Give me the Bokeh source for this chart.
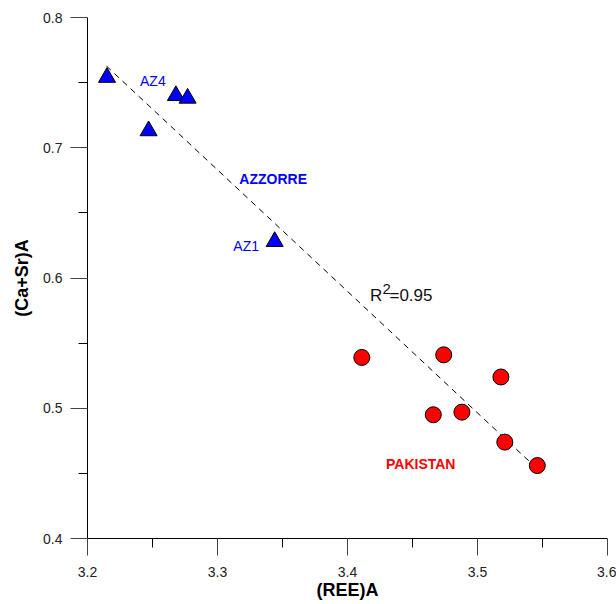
from bokeh.plotting import figure
from bokeh.models import Range1d, FixedTicker, Label
from bokeh.embed import file_html
from bokeh.resources import INLINE

# Azores samples (triangles)
az_ree = [3.215, 3.268, 3.277, 3.247, 3.344]
az_casr = [0.754, 0.740, 0.738, 0.713, 0.628]

# Pakistan samples (circles)
pk_ree = [3.411, 3.474, 3.518, 3.466, 3.488, 3.521, 3.546]
pk_casr = [0.539, 0.541, 0.524, 0.495, 0.497, 0.474, 0.456]

# Regression line end points
fit_ree = [3.2146, 3.546]
fit_casr = [0.7627, 0.4535]

x_ticks = [3.2, 3.3, 3.4, 3.5, 3.6]
x_minor = [3.25, 3.35, 3.45, 3.55]
y_ticks = [0.4, 0.5, 0.6, 0.7, 0.8]
y_minor = [0.45, 0.55, 0.65, 0.75]

FONT = "Liberation Sans"

p = figure(width=616, height=604, output_backend="svg", toolbar_location=None,
           x_range=Range1d(3.2, 3.6), y_range=Range1d(0.4, 0.8),
           min_border_left=87, min_border_right=9, min_border_top=17, min_border_bottom=66)
p.outline_line_color = None
p.xgrid.visible = False
p.ygrid.visible = False
p.background_fill_color = "white"
p.border_fill_color = "white"

p.xaxis.ticker = FixedTicker(ticks=x_ticks, minor_ticks=x_minor)
p.yaxis.ticker = FixedTicker(ticks=y_ticks, minor_ticks=y_minor)
for ax in (p.xaxis, p.yaxis):
    ax.axis_line_color = "black"
    ax.major_tick_line_color = "#444444"
    ax.minor_tick_line_color = "black"
    ax.major_tick_out = 17
    ax.major_tick_in = 0
    ax.minor_tick_out = 9
    ax.minor_tick_in = 0
    ax.major_label_text_font = FONT
    ax.major_label_text_font_size = "14px"
    ax.major_label_text_color = "#222222"
    ax.axis_label_text_font = FONT
    ax.axis_label_text_font_size = "18px"
    ax.axis_label_text_font_style = "bold"
    ax.axis_label_text_color = "black"
p.xaxis.major_label_standoff = 11
p.yaxis.major_label_standoff = 8
p.xaxis.major_label_overrides = {3.2: "3.2", 3.3: "3.3", 3.4: "3.4", 3.5: "3.5", 3.6: "3.6"}
p.yaxis.major_label_overrides = {0.4: "0.4", 0.5: "0.5", 0.6: "0.6", 0.7: "0.7", 0.8: "0.8"}
p.xaxis.axis_label = "(REE)A"
p.yaxis.axis_label = "(Ca+Sr)A"
p.xaxis.axis_label_standoff = 0
p.yaxis.axis_label_standoff = 8

# regression line
p.line(fit_ree, fit_casr, line_color="black", line_width=1, line_dash="6 5")

p.scatter(az_ree, az_casr, marker="triangle", size=17, fill_color="blue",
          line_color="black", line_width=1)
p.scatter(pk_ree, pk_casr, marker="circle", size=16, fill_color="#ff0000",
          line_color="black", line_width=1)

def lab(x, y, text, size="14px", color="black", bold=False, **kw):
    p.add_layout(Label(x=x, y=y, text=text, text_font=FONT, text_font_size=size,
                       text_color=color, text_font_style="bold" if bold else "normal",
                       text_baseline="alphabetic", text_align="left", **kw))

lab(3.2404, 0.7514, "AZ4", color="blue")
lab(3.3122, 0.6242, "AZ1", color="blue")
lab(3.3168, 0.6763, "AZZORRE", color="blue", bold=True)
lab(3.4296, 0.4571, "PAKISTAN", color="#ff0000", bold=True)

# R^2 annotation
lab(3.4173, 0.5865, "R", size="17px", color="#111111")
lab(3.4173, 0.5865, "2", size="15px", color="#111111", x_offset=12.5, y_offset=6.7)
lab(3.4173, 0.5865, "=0.95", size="17px", color="#111111", x_offset=19.5)

open("out.html", "w").write(file_html(p, INLINE))
